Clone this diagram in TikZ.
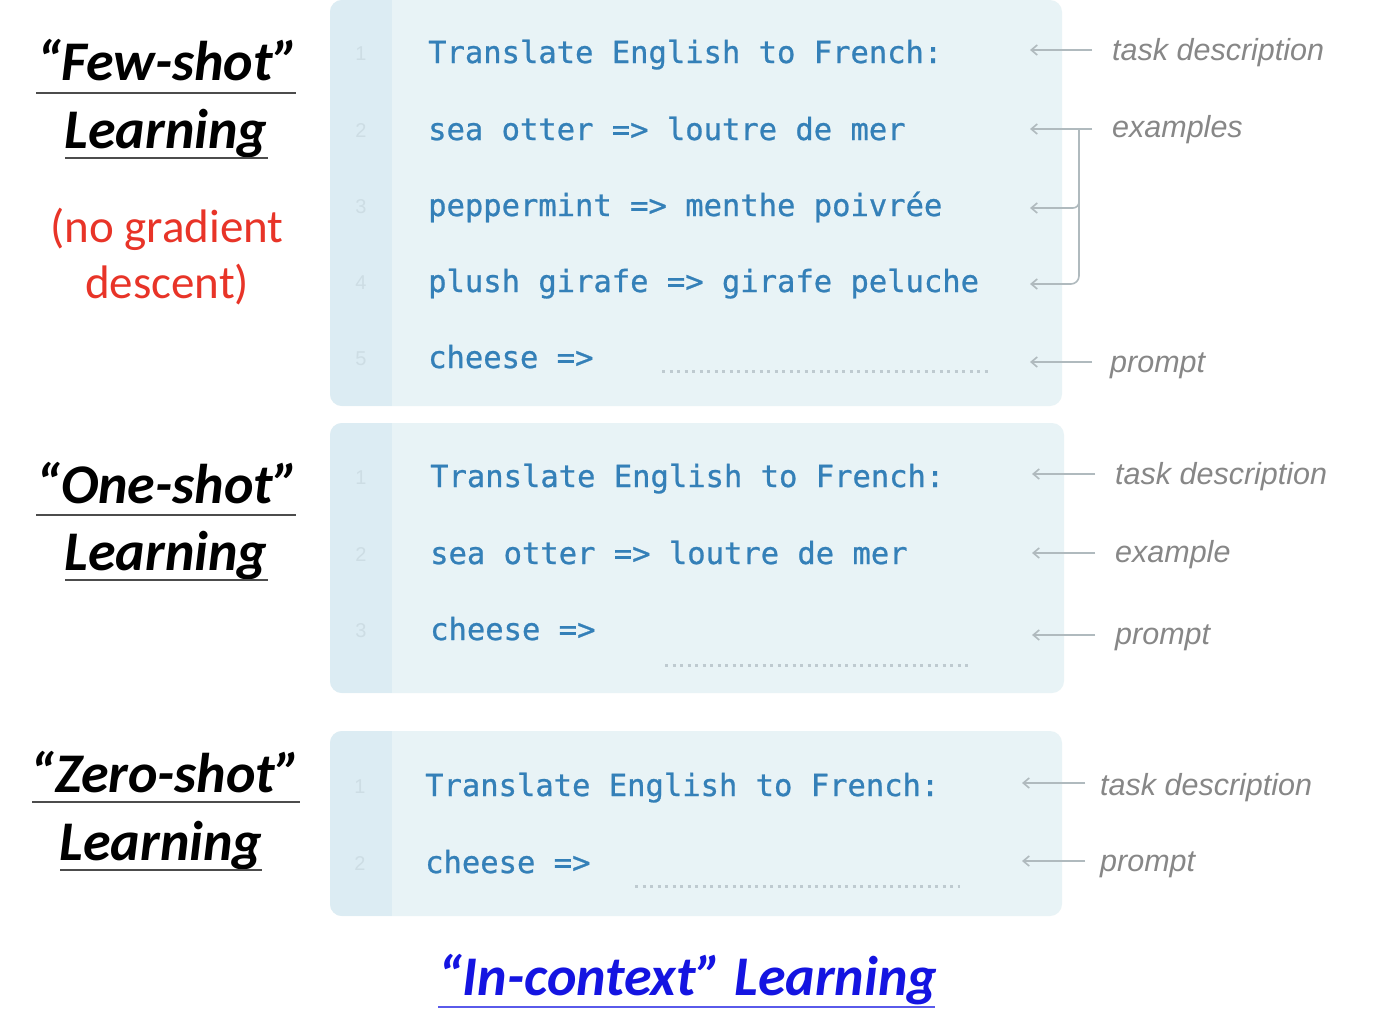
\documentclass[tikz,border=0pt]{standalone}
\usepackage{fontspec}
\usetikzlibrary{arrows.meta}
\newfontfamily\titlefont{Carlito}
\newfontfamily\codefont{DejaVu Sans Mono}[FakeBold=0.8]
\newfontfamily\notefont{Liberation Sans}
\definecolor{boxbody}{RGB}{232,243,246}
\definecolor{boxgutter}{RGB}{220,236,243}
\definecolor{codeblue}{RGB}{52,128,184}
\definecolor{lineno}{RGB}{205,221,228}
\definecolor{notegray}{RGB}{135,135,135}
\definecolor{arrowgray}{RGB}{176,186,190}
\definecolor{dotgray}{RGB}{190,202,208}
\definecolor{redtxt}{RGB}{232,52,40}
\definecolor{bluetxt}{RGB}{20,20,225}
\tikzset{
  codeline/.style={anchor=base west, inner sep=0pt, text=codeblue,
    font=\codefont\fontsize{30.5}{36}\selectfont},
  numline/.style={anchor=base, inner sep=0pt, text=lineno,
    font=\notefont\fontsize{20}{24}\selectfont},
  note/.style={anchor=base west, inner sep=0pt, text=notegray,
    font=\notefont\itshape\fontsize{30.5}{36}\selectfont},
  pointer/.style={draw=arrowgray, line width=1.6pt, -{Straight Barb[length=6pt,width=10pt]}},
  answer/.style={draw=dotgray, line width=3pt, dash pattern=on 3pt off 4.5pt},
  heading/.style={anchor=base, inner sep=0pt, text=black,
    font=\titlefont\bfseries\itshape\fontsize{56}{64}\selectfont},
  rule/.style={draw=black!70, line width=2.4pt},
  rednote/.style={anchor=base, inner sep=0pt, text=redtxt,
    font=\titlefont\fontsize{47}{56}\selectfont},
}
% a code panel: light body with a darker line-number gutter
\newcommand{\codepanel}[4]{%
  \fill[boxbody, rounded corners=12pt] (#1,#2) rectangle (#3,#4);
  \begin{scope}
    \clip[rounded corners=12pt] (#1,#2) rectangle (#3,#4);
    \fill[boxgutter] (#1,#2) rectangle (#1+62,#4);
  \end{scope}}
\begin{document}
\begin{tikzpicture}[x=1pt, y=-1pt]
\useasboundingbox[fill=white] (0,0) rectangle (1385,1017);

% ---------------- few-shot panel ----------------
\codepanel{330}{0}{1062}{406}
\node[numline] (f1n) at (361,60) {1};
\node[numline] (f2n) at (361,137) {2};
\node[numline] (f3n) at (361,213) {3};
\node[numline] (f4n) at (361,289) {4};
\node[numline] (f5n) at (361,365) {5};
\node[codeline] (f1) at (428,63) {Translate English to French:};
\node[codeline] (f2) at (428,140) {sea otter => loutre de mer};
\node[codeline] (f3) at (428,216) {peppermint => menthe poivrée};
\node[codeline] (f4) at (428,292) {plush girafe => girafe peluche};
\node[codeline] (f5) at (428,368) {cheese =>};
\coordinate (fd1) at (662,371); \coordinate (fd2) at (988,371);
\draw[answer] (fd1) -- (fd2);

\node[note] (ft) at (1112,60) {task description};
\node[note] (fe) at (1112,137) {examples};
\node[note] (fp) at (1110,372) {prompt};
\coordinate (ft0) at (1092,50);  \coordinate (ft1) at (1030,50);
\coordinate (fe0) at (1092,129); \coordinate (fe1) at (1030,129);
\coordinate (fb)  at (1079,129);
\coordinate (fb3) at (1030,208); \coordinate (fb4) at (1030,284);
\coordinate (fp0) at (1092,362); \coordinate (fp1) at (1030,362);
\draw[pointer] (ft0) -- (ft1);
\draw[pointer] (fe0) -- (fe1);
\draw[pointer, rounded corners=6pt] (fb) |- (fb3);
\draw[pointer, rounded corners=8pt] (fb) |- (fb4);
\draw[pointer] (fp0) -- (fp1);

% ---------------- one-shot panel ----------------
\codepanel{330}{423}{1064}{693}
\node[numline] (o1n) at (361,484) {1};
\node[numline] (o2n) at (361,561) {2};
\node[numline] (o3n) at (361,637) {3};
\node[codeline] (o1) at (430,487) {Translate English to French:};
\node[codeline] (o2) at (430,564) {sea otter => loutre de mer};
\node[codeline] (o3) at (430,640) {cheese =>};
\coordinate (od1) at (665,665); \coordinate (od2) at (970,665);
\draw[answer] (od1) -- (od2);

\node[note] (ot) at (1115,484) {task description};
\node[note] (oe) at (1115,562) {example};
\node[note] (op) at (1115,644) {prompt};
\coordinate (ot0) at (1095,474); \coordinate (ot1) at (1032,474);
\coordinate (oe0) at (1095,553); \coordinate (oe1) at (1032,553);
\coordinate (op0) at (1095,635); \coordinate (op1) at (1032,635);
\draw[pointer] (ot0) -- (ot1);
\draw[pointer] (oe0) -- (oe1);
\draw[pointer] (op0) -- (op1);

% ---------------- zero-shot panel ----------------
\codepanel{330}{731}{1062}{916}
\node[numline] (z1n) at (360,793) {1};
\node[numline] (z2n) at (360,870) {2};
\node[codeline] (z1) at (425,796) {Translate English to French:};
\node[codeline] (z2) at (425,873) {cheese =>};
\coordinate (zd1) at (635,886); \coordinate (zd2) at (960,886);
\draw[answer] (zd1) -- (zd2);

\node[note] (zt) at (1100,795) {task description};
\node[note] (zp) at (1100,871) {prompt};
\coordinate (zt0) at (1085,783); \coordinate (zt1) at (1022,783);
\coordinate (zp0) at (1085,861); \coordinate (zp1) at (1022,861);
\draw[pointer] (zt0) -- (zt1);
\draw[pointer] (zp0) -- (zp1);

% ---------------- headings on the left ----------------
\node[heading] (few) at (168,80) {“Few-shot”};
\node[heading] (fewl) at (166,148) {Learning};
\draw[rule] (36,93) -- (296,93);
\draw[rule] (65,158) -- (268,158);
\node[rednote] (ng1) at (167,242) {(no gradient};
\node[rednote] (ng2) at (167,298) {descent)};

\node[heading] (one) at (168,503) {“One-shot”};
\node[heading] (onel) at (166,570) {Learning};
\draw[rule] (36,515) -- (296,515);
\draw[rule] (65,580) -- (268,580);

\node[heading] (zero) at (166,792) {“Zero-shot”};
\node[heading] (zerol) at (161,860) {Learning};
\draw[rule] (32,802) -- (300,802);
\draw[rule] (60,870) -- (262,870);

% ---------------- caption ----------------
\node[heading, text=bluetxt] (ctx) at (688,995) {“In-context” Learning};
\draw[draw=bluetxt!70, line width=2.4pt] (438,1007) -- (935,1007);
\end{tikzpicture}
\end{document}
